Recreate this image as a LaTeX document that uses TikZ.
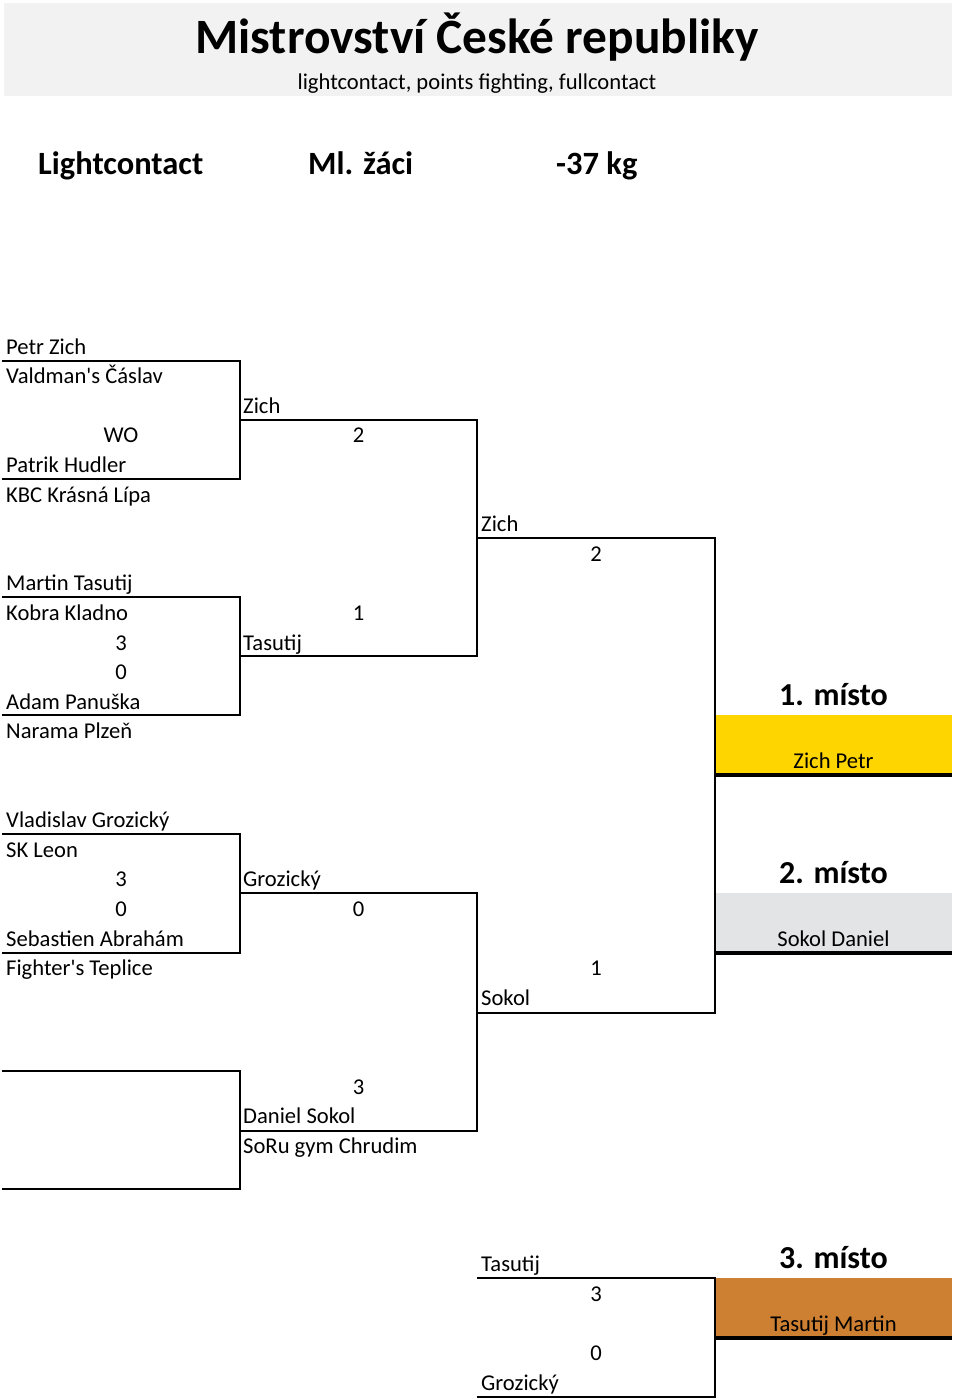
\documentclass[tikz,border=0pt]{standalone}
\usepackage{fontspec}
\setmainfont{Carlito}[Ligatures=TeXOff]
\definecolor{hdrgray}{HTML}{F2F2F2}
\definecolor{goldc}{HTML}{FFD500}
\definecolor{silverc}{HTML}{E3E4E6}
\definecolor{bronzec}{HTML}{CD7F32}
\begin{document}
\begin{tikzpicture}[x=1pt,y=-1pt,
  txt/.style={anchor=base west,inner sep=0pt,font=\fontsize{22.6}{26}\selectfont},
  num/.style={anchor=base,inner sep=0pt,font=\fontsize{22.6}{26}\selectfont},
  placelbl/.style={anchor=base,inner sep=0pt,font=\bfseries\fontsize{32}{36}\selectfont},
  head/.style={anchor=base west,inner sep=0pt,font=\bfseries\fontsize{32.5}{36}\selectfont},
  ln/.style={line width=2pt},
  heavy/.style={line width=4pt}]
\useasboundingbox (0,0) rectangle (960,1400);
\fill[white] (0,0) rectangle (960,1400);
% header band
\fill[hdrgray] (4,3) rectangle (952,96);
\node[anchor=base,inner sep=0pt,font=\bfseries\fontsize{49.4}{56}\selectfont] (title) at (477,53) {Mistrovství České republiky};
\node[anchor=base,inner sep=0pt,font=\fontsize{22.6}{26}\selectfont] (subtitle) at (477,89) {lightcontact, points fighting, fullcontact};
\node[head] (h1) at (38,174) {Lightcontact};
\node[head] (h2) at (308,174) {Ml. žáci};
\node[head] (h3) at (556,174) {-37 kg};
% place boxes
\fill[goldc] (715,715) rectangle (952,775);
\fill[silverc] (715,893) rectangle (952,953);
\fill[bronzec] (715,1278) rectangle (952,1338);
\draw[heavy] (715,775) -- (952,775);
\draw[heavy] (715,953) -- (952,953);
\draw[heavy] (715,1338) -- (952,1338);
% round 1 brackets
\draw[ln] (2,361) -- (240,361) -- (240,479) -- (2,479);
\draw[ln] (2,597) -- (240,597) -- (240,715) -- (2,715);
\draw[ln] (2,834) -- (240,834) -- (240,953) -- (2,953);
\draw[ln] (2,1071) -- (240,1071) -- (240,1189) -- (2,1189);
% round 2 brackets
\draw[ln] (240,420) -- (477,420) -- (477,656) -- (240,656);
\draw[ln] (240,893) -- (477,893) -- (477,1131) -- (240,1131);
% semifinal/final
\draw[ln] (477,538) -- (715,538) -- (715,1013) -- (477,1013);
% third place
\draw[ln] (477,1278) -- (715,1278) -- (715,1397) -- (477,1397);
% column A texts
\node[txt] (a1) at (6,354) {Petr Zich};
\node[txt] (a2) at (6,383.6) {Valdman's Čáslav};
\node[num] (s1) at (121,442.8) {WO};
\node[txt] (a3) at (6,472.4) {Patrik Hudler};
\node[txt] (a4) at (6,502) {KBC Krásná Lípa};
\node[txt] (a5) at (6,590.8) {Martin Tasutij};
\node[txt] (a6) at (6,620.4) {Kobra Kladno};
\node[num] (s2) at (121,650) {3};
\node[num] (s3) at (121,679.6) {0};
\node[txt] (a7) at (6,709.2) {Adam Panuška};
\node[txt] (a8) at (6,738.8) {Narama Plzeň};
\node[txt] (a9) at (6,827.6) {Vladislav Grozický};
\node[txt] (a10) at (6,857) {SK Leon};
\node[num] (s4) at (121,886.8) {3};
\node[num] (s5) at (121,916.4) {0};
\node[txt] (a11) at (6,946) {Sebastien Abrahám};
\node[txt] (a12) at (6,975.6) {Fighter's Teplice};
% column B texts
\node[txt] (b1) at (243,413) {Zich};
\node[num] (t1) at (358.5,442.8) {2};
\node[num] (t2) at (358.5,620.4) {1};
\node[txt] (b2) at (243,650) {Tasutij};
\node[txt] (b3) at (243,886.8) {Grozický};
\node[num] (t3) at (358.5,916.4) {0};
\node[num] (t4) at (358.5,1094) {3};
\node[txt] (b4) at (243,1123.6) {Daniel Sokol};
\node[txt] (b5) at (243,1153) {SoRu gym Chrudim};
% column C texts
\node[txt] (c1) at (481,531.6) {Zich};
\node[num] (u1) at (596,561) {2};
\node[num] (u2) at (596,975.6) {1};
\node[txt] (c2) at (481,1005) {Sokol};
\node[txt] (c3) at (481,1271.6) {Tasutij};
\node[num] (u3) at (596,1301) {3};
\node[num] (u4) at (596,1360) {0};
\node[txt] (c4) at (481,1390) {Grozický};
% places
\node[placelbl] (p1) at (833.5,705) {1. místo};
\node[num] (p1n) at (833.5,768.4) {Zich Petr};
\node[placelbl] (p2) at (833.5,883) {2. místo};
\node[num] (p2n) at (833.5,946) {Sokol Daniel};
\node[placelbl] (p3) at (833.5,1268) {3. místo};
\node[num] (p3n) at (833.5,1331) {Tasutij Martin};
\end{tikzpicture}
\end{document}
